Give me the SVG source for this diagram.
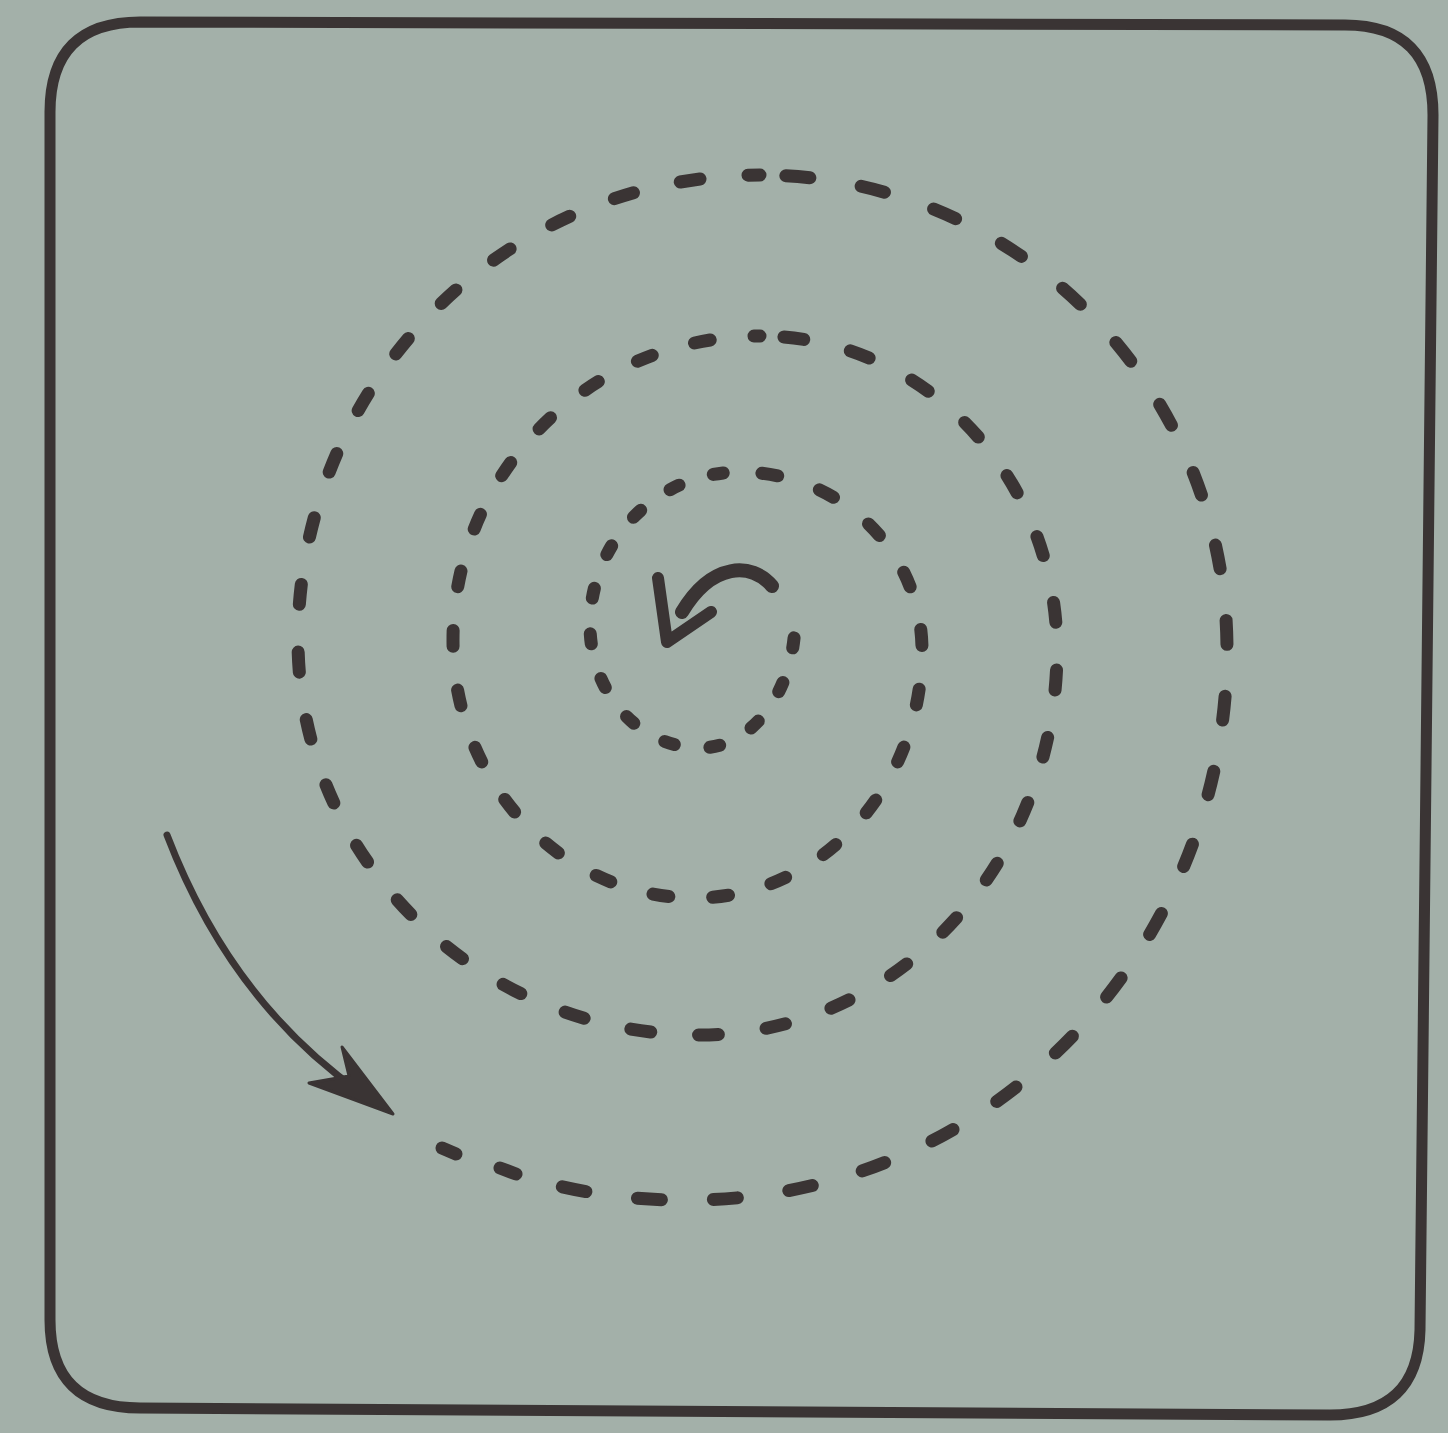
<svg xmlns="http://www.w3.org/2000/svg" width="1448" height="1433" viewBox="0 0 1448 1433">
<style>
.ink{fill:none;stroke:#3a3434;stroke-linecap:round;stroke-linejoin:round}
.frame{stroke-width:11}
.sp{stroke-width:13}
.t1{stroke-dasharray:10 36;stroke-dashoffset:28}
.t2{stroke-dasharray:16 44;stroke-dashoffset:38}
.t3{stroke-dasharray:20 48;stroke-dashoffset:44}
.t4{stroke-dasharray:24 52;stroke-dashoffset:50}
.head{fill:#3a3434;stroke:#3a3434;stroke-width:3;stroke-linejoin:round}
</style>
<rect x="0" y="0" width="1448" height="1433" fill="#a3b0a9"/>
<g id="frame">
<path class="ink frame" d="M 140 22 L 1345 25 Q 1433 25 1433 115 L 1420 1330 Q 1418 1415 1330 1415 L 140 1408 Q 50 1408 50 1320 L 50 112 Q 50 22 140 22 Z" fill="#a0ada6"/>
</g>
<g id="spiral">
<path class="ink sp t1" d="M 795 620 A 95 128 0 0 1 700 748 A 110 123 0 0 1 590 625 A 150 153 0 0 1 740 472"/>
<path class="ink sp t2" d="M 740 472 A 182 178 0 0 1 922 650 A 227 248 0 0 1 695 898 A 242 258 0 0 1 453 640 A 307 304 0 0 1 760 336"/>
<path class="ink sp t3" d="M 760 336 A 297 314 0 0 1 1057 650 A 357 385 0 0 1 700 1035 A 402 395 0 0 1 298 640 A 462 465 0 0 1 760 175"/>
<path class="ink sp t4" d="M 760 175 A 467 475 0 0 1 1227 650 A 537 550 0 0 1 690 1200 A 550 550 0 0 1 528 1178"/>
<path class="ink sp" d="M 442 1148 L 456 1154"/>
<path class="ink sp" d="M 500 1168 L 516 1174"/>
</g>
<g id="outer-arrow">
<path class="ink" stroke-width="7" d="M 167 835 Q 230 1000 360 1092"/>
<path class="head" d="M 393 1114 L 342 1047 L 349 1076 L 309 1083 Z"/>
</g>
<g id="center-arrow">
<path class="ink" stroke-width="14" d="M 772 586 C 752 562 712 562 682 612"/>
<path class="ink" stroke-width="12" d="M 658 578 L 667 642 L 711 612"/>
</g>
</svg>
